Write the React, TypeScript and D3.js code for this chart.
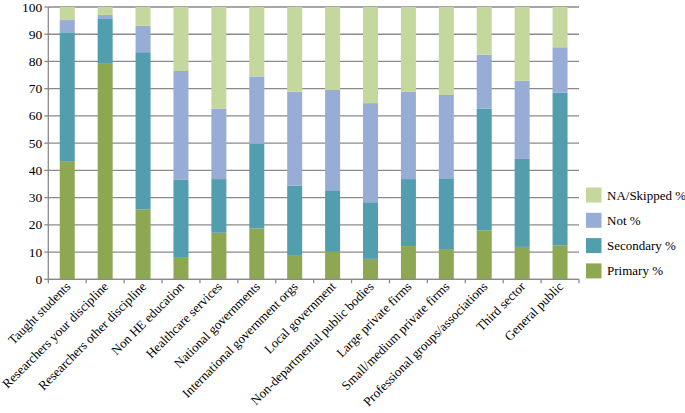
import React from "react";
import * as d3 from "d3";

const categories = [
  "Taught students",
  "Researchers your discipline",
  "Researchers other discipline",
  "Non HE education",
  "Healthcare services",
  "National governments",
  "International government orgs",
  "Local government",
  "Non-departmental public bodies",
  "Large private firms",
  "Small/medium private firms",
  "Professional groups/associations",
  "Third sector",
  "General public",
];
const primaryPct = [43.4, 79.4, 25.7, 7.9, 17.1, 18.7, 8.9, 10.1, 7.5, 12.2, 11.1, 18.0, 11.9, 12.5];
const secondaryPct = [47.3, 16.2, 57.7, 28.6, 19.7, 31.1, 25.5, 22.6, 20.8, 24.6, 26.0, 44.7, 32.3, 56.0];
const notPct = [4.5, 1.5, 9.7, 40.0, 25.9, 24.7, 34.5, 36.9, 36.4, 32.1, 30.6, 19.8, 28.7, 16.7];
const naPct = primaryPct.map((_, i) => +(100 - primaryPct[i] - secondaryPct[i] - notPct[i]).toFixed(1));
const seriesNames = ["Primary %", "Secondary %", "Not %", "NA/Skipped %"];
const seriesColors = ["#8ea752", "#529dae", "#98add5", "#c4d79c"];
const yTicks = [0, 10, 20, 30, 40, 50, 60, 70, 80, 90, 100];

export default function App() {
  const W = 685, H = 413;
  const left = 48.3, right = 579, top = 7, bottom = 279.3;
  const x = d3.scaleBand<string>().domain(categories).range([left, right]).paddingInner(0).paddingOuter(0);
  const y = d3.scaleLinear().domain([0, 100]).range([bottom, top]);
  const barW = 15;
  const rows = categories.map((c, i) => ({
    cat: c,
    "Primary %": primaryPct[i],
    "Secondary %": secondaryPct[i],
    "Not %": notPct[i],
    "NA/Skipped %": naPct[i],
  }));
  const stack = d3.stack<any>().keys(seriesNames)(rows);
  const FF = "Liberation Serif";
  const fs = { fontFamily: '"Liberation Serif"' };
  const grid = "#8a8a8a";
  return (
    <svg width={W} height={H} style={{ position: "absolute", left: 0, top: 0 }}>
      <style>{`text { font-family: "Liberation Serif"; }`}</style>
      <rect width={W} height={H} fill="#fff" />
      {yTicks.map((t) => (
        <g key={t}>
          <line x1={left} x2={right} y1={y(t)} y2={y(t)} stroke={grid} strokeWidth={1.3} />
          <line x1={left - 4} x2={left} y1={y(t)} y2={y(t)} stroke={grid} strokeWidth={1.3} />
          <text x={left - 6} y={y(t) + 4.5} textAnchor="end" fontSize={13.5} fill="#000" fontFamily={FF} style={fs}>{t}</text>
        </g>
      ))}
      {stack.map((s, si) => (
        <g key={si} fill={seriesColors[si]}>
          {s.map((d, i) => (
            <rect key={i} x={x(categories[i])! + x.bandwidth() / 2 - barW / 2} y={y(d[1])} width={barW} height={y(d[0]) - y(d[1])} />
          ))}
        </g>
      ))}
      <line x1={left} x2={left} y1={top} y2={bottom} stroke={grid} strokeWidth={1.3} />
      <line x1={left} x2={right} y1={bottom} y2={bottom} stroke={grid} strokeWidth={1.3} />
      {categories.map((c) => (
        <line key={c} x1={x(c)!} x2={x(c)!} y1={bottom} y2={bottom + 4} stroke={grid} strokeWidth={1.3} />
      ))}
      <line x1={right} x2={right} y1={bottom} y2={bottom + 4} stroke={grid} strokeWidth={1.3} />
      {categories.map((c) => {
        const cx = x(c)! + x.bandwidth() / 2 + 4;
        const cy = bottom + 8;
        return (
          <text key={c} transform={`translate(${cx},${cy}) rotate(-45)`} textAnchor="end" fontSize={13} fill="#000" fontFamily={FF} style={fs}>{c}</text>
        );
      })}
      {seriesNames.slice().reverse().map((n, k) => {
        const si = seriesNames.length - 1 - k;
        const cy = 195 + k * 25.3;
        return (
          <g key={n}>
            <rect x={586} y={cy - 7.5} width={15.5} height={15} fill={seriesColors[si]} />
            <text x={607} y={cy + 4.5} fontSize={13} fill="#000" fontFamily={FF} style={fs}>{n}</text>
          </g>
        );
      })}
    </svg>
  );
}
